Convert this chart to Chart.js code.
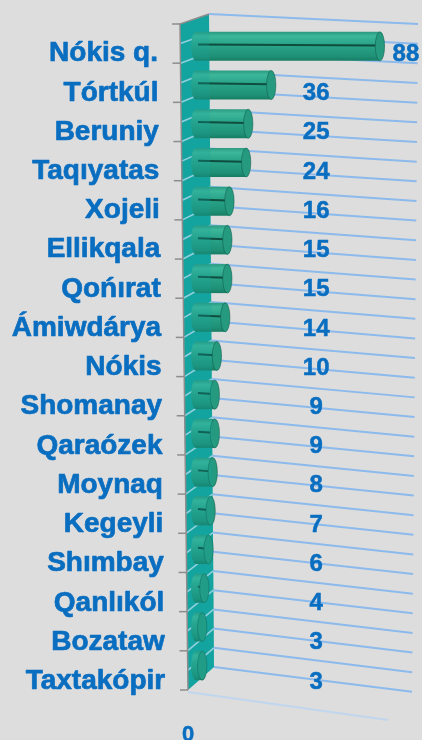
<!DOCTYPE html>
<html>
<head>
<meta charset="utf-8">
<title>Districts</title>
<script src="https://cdn.jsdelivr.net/npm/chart.js@4.4.1/dist/chart.umd.min.js"></script>
<style>
  html, body { margin: 0; padding: 0; background: #dddddd; }
  canvas { display: block; }
</style>
</head>
<body>
<canvas id="canvas-1" width="422" height="740"></canvas>
<script>
var district_names = ['Nókis q.', 'Tórtkúl', 'Beruniy', 'Taqıyatas', 'Xojeli', 'Ellikqala', 'Qońırat',
    'Ámiwdárya', 'Nókis', 'Shomanay', 'Qaraózek', 'Moynaq', 'Kegeyli', 'Shımbay', 'Qanlıkól',
    'Bozataw', 'Taxtakópir'];
var district_counts = [88, 36, 25, 24, 16, 15, 15, 14, 10, 9, 9, 8, 7, 6, 4, 3, 3];
var value_ticks = [0];

(function () {
    'use strict';
    var label_blue = '#0a6ec0';

    var lerp = function (p, q, t) {
        return { x: p.x + (q.x - p.x) * t, y: p.y + (q.y - p.y) * t };
    };

    // corners of the teal side wall, hung off the chart area
    var wallCorners = function (chart) {
        var a = chart.chartArea;
        return {
            tl: { x: a.left - 16, y: a.top - 3 },
            tr: { x: a.left + 13, y: a.top - 13 },
            br: { x: a.left + 18, y: a.bottom - 18 },
            bl: { x: a.left - 8, y: a.bottom + 5 }
        };
    };

    var wallPath = function (ctx, w) {
        ctx.beginPath();
        ctx.moveTo(w.tl.x, w.tl.y);
        ctx.lineTo(w.tr.x, w.tr.y);
        ctx.lineTo(w.br.x, w.br.y);
        ctx.lineTo(w.bl.x, w.bl.y);
        ctx.closePath();
    };

    var barHeight = function (chart) {
        var a = chart.chartArea;
        return (a.bottom - a.top) / district_names.length * 0.75;
    };

    var cylinderFill = function (ctx, y, h) {
        var g = ctx.createLinearGradient(0, y - h / 2, 0, y + h / 2);
        g.addColorStop(0, '#2a9a80');
        g.addColorStop(0.15, '#3db79a');
        g.addColorStop(0.4, '#2ca68b');
        g.addColorStop(0.6, '#259d82');
        g.addColorStop(0.85, '#1e9076');
        g.addColorStop(1, '#177c63');
        return g;
    };

    var labelY = function (chart, i) {
        return chart.scales.y.getPixelForValue(i) + 5 + 0.52 * i;
    };

    // heavy text: fill plus a thin stroke of the same colour
    var boldText = function (ctx, text, x, y) {
        ctx.fillText(text, x, y);
        ctx.strokeText(text, x, y);
    };

    var cylinders = {
        id: 'cylinders',
        beforeDatasetsDraw: function (chart) {
            var ctx = chart.ctx;
            var w = wallCorners(chart);
            var a = chart.chartArea;
            var k, t, r, l, slope, xEnd;
            ctx.save();

            // receding grid lines
            ctx.strokeStyle = 'rgba(140,186,236,1)';
            ctx.lineWidth = 2;
            for (k = 0; k <= 34; k++) {
                t = k / 34;
                r = lerp(w.tr, w.br, t);
                slope = 0.048 + 0.077 * t;
                xEnd = chart.width - 4 - 6 * t;
                ctx.beginPath();
                ctx.moveTo(r.x, r.y);
                ctx.lineTo(xEnd, r.y + slope * (xEnd - r.x));
                ctx.stroke();
            }
            // floor edge
            ctx.strokeStyle = 'rgba(185,212,242,0.8)';
            ctx.beginPath();
            ctx.moveTo(w.bl.x, w.bl.y + 2);
            ctx.lineTo(a.left + 192, w.bl.y + 2 + 0.14 * (a.left + 192 - w.bl.x));
            ctx.stroke();

            // side wall
            ctx.fillStyle = '#15a5a1';
            wallPath(ctx, w);
            ctx.fill();
            ctx.strokeStyle = 'rgba(205,228,250,0.9)';
            ctx.lineWidth = 1.6;
            for (k = 1; k < 34; k++) {
                t = k / 34;
                l = lerp(w.tl, w.bl, t);
                r = lerp(w.tr, w.br, t);
                ctx.beginPath();
                ctx.moveTo(l.x, l.y);
                ctx.lineTo(r.x, r.y);
                ctx.stroke();
            }

            // rounded left ends of the cylinders
            var h = barHeight(chart);
            chart.getDatasetMeta(0).data.forEach(function (el) {
                var p = el.getProps(['x', 'y', 'base'], true);
                ctx.fillStyle = cylinderFill(ctx, p.y, h);
                ctx.beginPath();
                ctx.ellipse(p.base, p.y, h * 0.17, h / 2, 0, 0, Math.PI * 2);
                ctx.fill();
            });
            ctx.restore();
        },
        afterDatasetsDraw: function (chart) {
            var ctx = chart.ctx;
            var w = wallCorners(chart);
            var xScale = chart.scales.x;
            var h = barHeight(chart);
            var rx = h * 0.16;
            var meta = chart.getDatasetMeta(0);
            ctx.save();

            meta.data.forEach(function (el) {
                var p = el.getProps(['x', 'y', 'base'], true);
                var sy = p.y - h * 0.06;
                // dark seam along the cylinder
                ctx.strokeStyle = '#0f4d3e';
                ctx.lineWidth = 2;
                ctx.beginPath();
                ctx.moveTo(p.base + 2, sy);
                ctx.lineTo(p.x - rx * 0.5, sy + 1);
                ctx.stroke();
                // end cap
                ctx.fillStyle = '#259a7f';
                ctx.strokeStyle = 'rgba(16,92,72,0.55)';
                ctx.lineWidth = 1;
                ctx.beginPath();
                ctx.ellipse(p.x, p.y, rx, h / 2, 0, 0, Math.PI * 2);
                ctx.fill();
                ctx.stroke();
            });

            // wall is partly see-through over the bar roots
            ctx.fillStyle = 'rgba(21,165,161,0.25)';
            wallPath(ctx, w);
            ctx.fill();

            // axis line, top edge and ticks
            ctx.strokeStyle = '#8d8d8d';
            ctx.lineWidth = 1.5;
            ctx.beginPath();
            ctx.moveTo(w.tr.x, w.tr.y);
            ctx.lineTo(w.tl.x, w.tl.y);
            ctx.lineTo(w.bl.x, w.bl.y);
            ctx.stroke();
            for (var k = 0; k <= district_names.length; k++) {
                var q = lerp(w.tl, w.bl, k / district_names.length);
                ctx.beginPath();
                ctx.moveTo(q.x - 8, q.y);
                ctx.lineTo(q.x, q.y);
                ctx.stroke();
            }

            // category names
            ctx.fillStyle = label_blue;
            ctx.strokeStyle = label_blue;
            ctx.lineWidth = 0.7;
            ctx.lineJoin = 'round';
            ctx.font = 'bold 28px "Liberation Sans", Arial, sans-serif';
            ctx.textAlign = 'right';
            ctx.textBaseline = 'alphabetic';
            district_names.forEach(function (name, i) {
                boldText(ctx, name, chart.chartArea.left - 38 + 0.45 * i, labelY(chart, i) + 10);
            });

            // values
            ctx.font = 'bold 24px "Liberation Sans", Arial, sans-serif';
            ctx.textAlign = 'center';
            ctx.lineWidth = 0.5;
            meta.data.forEach(function (el, i) {
                var p = el.getProps(['x'], true);
                var cx = Math.max(xScale.getPixelForValue(57.5), p.x + 26);
                boldText(ctx, String(district_counts[i]), cx, labelY(chart, i) + 1 + 8.6);
            });

            // value axis ticks
            ctx.font = 'bold 22px "Liberation Sans", Arial, sans-serif';
            value_ticks.forEach(function (v) {
                boldText(ctx, String(v), xScale.getPixelForValue(v) - 8, 741);
            });
            ctx.restore();
        }
    };

    var ctx = document.getElementById('canvas-1');
    var chart = new Chart(ctx, {
        type: 'bar',
        data: {
            labels: district_names,
            datasets: [
                {
                    label: 'Districts',
                    data: district_counts,
                    backgroundColor: function (context) {
                        var c = context.chart;
                        if (!c.chartArea || context.dataIndex === undefined) {
                            return '#27a084';
                        }
                        var y = c.scales.y.getPixelForValue(context.dataIndex);
                        return cylinderFill(c.ctx, y, barHeight(c));
                    },
                    borderWidth: 0,
                    barPercentage: 0.75,
                    categoryPercentage: 1
                }
            ]
        },
        options: {
            indexAxis: 'y',
            responsive: false,
            animation: false,
            layout: { padding: { left: 196, right: 17, top: 27, bottom: 55 } },
            plugins: {
                legend: { display: false },
                tooltip: { enabled: false }
            },
            scales: {
                x: { display: false, min: 0, max: 100 },
                y: { display: false }
            }
        },
        plugins: [cylinders]
    });
})();
</script>
</body>
</html>
